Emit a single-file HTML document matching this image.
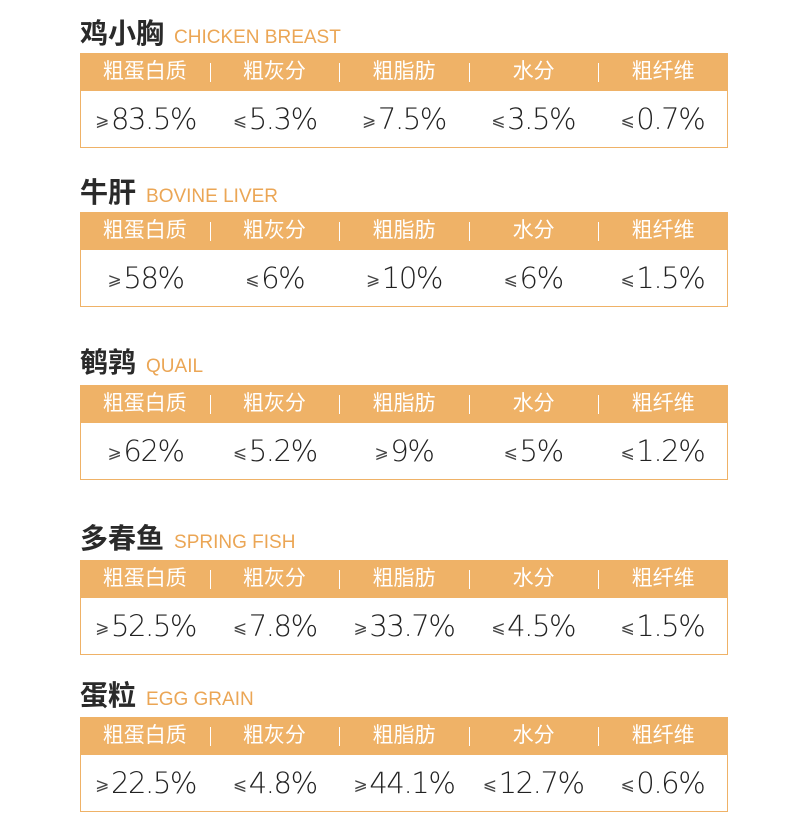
<!DOCTYPE html><html><head><meta charset="utf-8"><style>
body{margin:0;width:800px;height:800px;background:#fff;overflow:hidden;position:relative;font-family:"Liberation Sans","Noto Sans CJK SC",sans-serif}
.sec{position:absolute;left:80px;width:648px}
.t{position:absolute;left:0;font-size:28px;font-weight:bold;color:#2a2a2a;white-space:nowrap}
.t span{font-size:19px;font-weight:normal;color:#eba655;margin-left:10px}
.h{position:absolute;left:0;width:648px;height:38px;background:#efb267;display:flex}
.h div,.b div{flex:1;text-align:center;position:relative}
.h div{color:#fff;font-size:21px;line-height:38px}
.h div+div:before{content:"";position:absolute;left:0;top:10px;height:19px;border-left:1px solid #fff}
.b{position:absolute;left:0;width:646px;height:56px;border:1px solid #efb267;border-top:none;display:flex}
.b div{font-size:29px;line-height:56px;color:#222;font-family:"DejaVu Sans","Liberation Sans",sans-serif;font-weight:200;letter-spacing:-1.4px}
.b i{font-style:normal;font-size:17px;color:#444;margin-right:3px;font-family:"DejaVu Sans",sans-serif;position:relative;top:-3px}
</style></head><body>
<div class="sec" style="top:0"><div class="t" style="top:12px">鸡小胸<span>CHICKEN BREAST</span></div>
<div class="h" style="top:53px"><div>粗蛋白质</div><div>粗灰分</div><div>粗脂肪</div><div>水分</div><div>粗纤维</div></div>
<div class="b" style="top:91px"><div><i>⩾</i>83.5%</div><div><i>⩽</i>5.3%</div><div><i>⩾</i>7.5%</div><div><i>⩽</i>3.5%</div><div><i>⩽</i>0.7%</div></div></div>
<div class="sec" style="top:0"><div class="t" style="top:171px">牛肝<span>BOVINE LIVER</span></div>
<div class="h" style="top:212px"><div>粗蛋白质</div><div>粗灰分</div><div>粗脂肪</div><div>水分</div><div>粗纤维</div></div>
<div class="b" style="top:250px"><div><i>⩾</i>58%</div><div><i>⩽</i>6%</div><div><i>⩾</i>10%</div><div><i>⩽</i>6%</div><div><i>⩽</i>1.5%</div></div></div>
<div class="sec" style="top:0"><div class="t" style="top:341px">鹌鹑<span>QUAIL</span></div>
<div class="h" style="top:385px"><div>粗蛋白质</div><div>粗灰分</div><div>粗脂肪</div><div>水分</div><div>粗纤维</div></div>
<div class="b" style="top:423px"><div><i>⩾</i>62%</div><div><i>⩽</i>5.2%</div><div><i>⩾</i>9%</div><div><i>⩽</i>5%</div><div><i>⩽</i>1.2%</div></div></div>
<div class="sec" style="top:0"><div class="t" style="top:517px">多春鱼<span>SPRING FISH</span></div>
<div class="h" style="top:560px"><div>粗蛋白质</div><div>粗灰分</div><div>粗脂肪</div><div>水分</div><div>粗纤维</div></div>
<div class="b" style="top:598px"><div><i>⩾</i>52.5%</div><div><i>⩽</i>7.8%</div><div><i>⩾</i>33.7%</div><div><i>⩽</i>4.5%</div><div><i>⩽</i>1.5%</div></div></div>
<div class="sec" style="top:0"><div class="t" style="top:674px">蛋粒<span>EGG GRAIN</span></div>
<div class="h" style="top:717px"><div>粗蛋白质</div><div>粗灰分</div><div>粗脂肪</div><div>水分</div><div>粗纤维</div></div>
<div class="b" style="top:755px"><div><i>⩾</i>22.5%</div><div><i>⩽</i>4.8%</div><div><i>⩾</i>44.1%</div><div><i>⩽</i>12.7%</div><div><i>⩽</i>0.6%</div></div></div>
</body></html>
